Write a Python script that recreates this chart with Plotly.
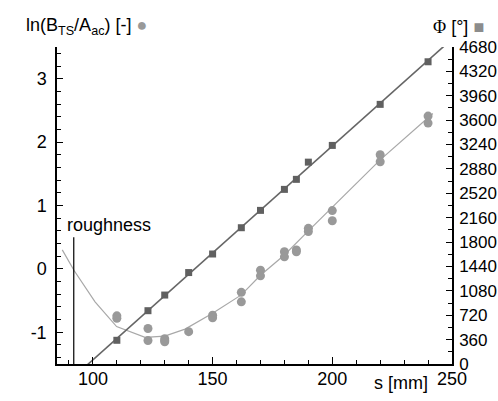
import numpy as np
import plotly.graph_objects as go

# ---- data ----
# phase (right axis, squares)
phi_s = [110, 123, 130, 140, 150, 162, 170, 180, 185, 190, 200, 220, 240]
phi_val = [350, 787, 1018, 1350, 1624, 2012, 2268, 2578, 2726, 2980, 3227, 3833, 4462]

# ln(B_TS/A_ac) (left axis, circles)
ln_s = [110, 110, 123, 123, 130, 130, 130, 140, 150, 150, 162, 162, 170, 170,
        180, 180, 185, 185, 190, 190, 200, 200, 220, 220, 240, 240]
ln_val = [-0.74, -0.78, -0.94, -1.13, -1.10, -1.13, -1.15, -0.99, -0.73, -0.77,
          -0.37, -0.52, -0.02, -0.11, 0.27, 0.19, 0.30, 0.27, 0.64, 0.59,
          0.92, 0.76, 1.80, 1.69, 2.41, 2.30]

# smooth fitted curve for ln values
curve_s = [87.2, 92.2, 100.9, 109.9, 121.8, 130, 138.5, 150, 162, 170, 180, 190, 220, 242]
curve_val = [0.30, -0.03, -0.52, -0.91, -1.08, -1.06, -0.95, -0.70, -0.41, -0.10,
             0.22, 0.60, 1.72, 2.45]

roughness_s = 92
roughness_top = 0.5

x_range = [85, 250]
left_range = [-1.5, 3.5]
left_ticks = [-1, 0, 1, 2, 3]
left_ticktext = ["-1", "0", "1", "2", "3"]
right_range = [0, 4680]

# linear fit of phase
coef = np.polyfit(phi_s, phi_val, 1)
fit_x = np.array(x_range, dtype=float)
fit_y = np.polyval(coef, fit_x)

FONT = "Liberation Sans, Arial, sans-serif"

fig = go.Figure()
fig.add_trace(go.Scatter(x=curve_s, y=curve_val, mode="lines",
                         line=dict(color="#a8a8a8", width=1.2),
                         yaxis="y", showlegend=False, hoverinfo="skip"))
fig.add_trace(go.Scatter(x=fit_x, y=fit_y, mode="lines",
                         line=dict(color="#666666", width=1.6),
                         yaxis="y2", showlegend=False, hoverinfo="skip"))
fig.add_trace(go.Scatter(x=ln_s, y=ln_val, mode="markers",
                         marker=dict(symbol="circle", size=9, color="#999999",
                                     line=dict(width=0)),
                         yaxis="y", showlegend=False))
fig.add_trace(go.Scatter(x=phi_s, y=phi_val, mode="markers",
                         marker=dict(symbol="square", size=7, color="#606060",
                                     line=dict(width=0)),
                         yaxis="y2", showlegend=False))

axis_common = dict(showline=True, linecolor="black", linewidth=1.5,
                   ticks="inside", tickcolor="black", tickwidth=1.2,
                   showgrid=False, zeroline=False, automargin=False)

fig.update_layout(
    width=498, height=401, autosize=False,
    margin=dict(l=57, r=46, t=47, b=37, pad=0),
    plot_bgcolor="white", paper_bgcolor="white",
    xaxis=dict(range=x_range, tickmode="linear", tick0=0, dtick=50, ticklen=7,
               minor=dict(tickmode="linear", tick0=0, dtick=10, ticklen=4,
                          ticks="inside", tickcolor="black", tickwidth=1),
               ticklabelstandoff=-2,
               tickfont=dict(family=FONT, size=18, color="black"), **axis_common),
    yaxis=dict(range=left_range, tickmode="array", tickvals=left_ticks,
               ticktext=left_ticktext, ticklen=6,
               minor=dict(tickmode="linear", tick0=0, dtick=0.2, ticklen=4,
                          ticks="inside", tickcolor="black", tickwidth=1),
               ticklabelstandoff=5,
               tickfont=dict(family=FONT, size=18, color="black"), **axis_common),
    yaxis2=dict(range=right_range, overlaying="y", side="right",
                tickmode="linear", tick0=0, dtick=360, ticklen=6,
                minor=dict(tickmode="linear", tick0=0, dtick=180, ticklen=4,
                           ticks="inside", tickcolor="black", tickwidth=1),
                ticklabelstandoff=2,
                tickfont=dict(family=FONT, size=17, color="black"), **axis_common),
)

fig.add_shape(type="line", xref="x", yref="y",
              x0=roughness_s, x1=roughness_s, y0=left_range[0], y1=roughness_top,
              line=dict(color="black", width=1.2))

fig.add_annotation(text="roughness", xref="x", yref="y", x=roughness_s - 3.5,
                   y=roughness_top, xanchor="left", yanchor="bottom",
                   showarrow=False, font=dict(family=FONT, size=18, color="black"))

fig.add_annotation(text="ln(B<sub>TS</sub>/A<sub>ac</sub>) [-] <span style='color:#999999'>●</span>",
                   xref="paper", yref="paper", x=-0.083, y=1.066,
                   xanchor="left", yanchor="middle", showarrow=False,
                   font=dict(family=FONT, size=18, color="black"))

fig.add_annotation(text="<span style='font-family:Liberation Serif, Times New Roman, serif'>Φ</span> [°] <span style='color:#8c8c8c'>■</span>",
                   xref="paper", yref="paper", x=0.947, y=1.064,
                   xanchor="left", yanchor="middle", showarrow=False,
                   font=dict(family=FONT, size=18, color="black"))

fig.add_annotation(text="s [mm]", xref="paper", yref="paper", x=0.871, y=-0.06,
                   xanchor="center", yanchor="middle", showarrow=False,
                   font=dict(family=FONT, size=18, color="black"))

fig.write_html("out.html")
